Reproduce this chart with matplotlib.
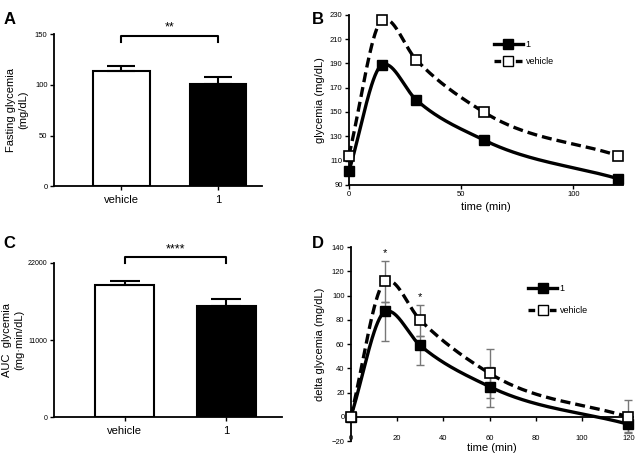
import numpy as np
import matplotlib
matplotlib.use('Agg')
import matplotlib.pyplot as plt

plt.rcParams['font.family'] = ['Liberation Sans', 'DejaVu Sans']

# panel A - fasting glycemia
groups = ['vehicle', '1']
fasting = [114, 101]
fasting_err = [5, 7]

# panel C - AUC
auc = [18850, 15850]
auc_err = [500, 950]

# panel B - glycemia time course
time = [0, 15, 30, 60, 120]
gly_1 = [101, 189, 160, 127, 95]
gly_veh = [114, 226, 193, 150, 114]

# panel D - delta glycemia
delta_1 = [0, 87, 59, 25, -6]
delta_1_lo = [0, 24, 16, 17, 6]
delta_1_hi = [0, 8, 8, 16, 5]
delta_veh = [0, 112, 80, 36, 0]
delta_veh_lo = [0, 17, 13, 20, 13]
delta_veh_hi = [0, 17, 12, 20, 14]
stars_x = [15, 30]
stars_y = [135, 99]


def smooth(x, y, n=60):
    # hermite spline through the points, only for the drawn line
    x = np.asarray(x, float)
    y = np.asarray(y, float)
    h = np.diff(x)
    d = np.diff(y) / h
    m = np.zeros_like(y)
    m[1:-1] = (d[:-1] * h[1:] + d[1:] * h[:-1]) / (h[:-1] + h[1:])
    peak = (d[:-1] * d[1:]) < 0
    m[1:-1][peak] *= 0.35
    m[0] = d[0]
    m[-1] = d[-1]
    xs, ys = [], []
    for i in range(len(x) - 1):
        t = np.linspace(0, 1, n)
        h00 = 2 * t**3 - 3 * t**2 + 1
        h10 = t**3 - 2 * t**2 + t
        h01 = -2 * t**3 + 3 * t**2
        h11 = t**3 - t**2
        xs.append(x[i] + t * h[i])
        ys.append(h00 * y[i] + h10 * h[i] * m[i] + h01 * y[i + 1] + h11 * h[i] * m[i + 1])
    return np.concatenate(xs), np.concatenate(ys)


def style(ax):
    for s in ['top', 'right']:
        ax.spines[s].set_visible(False)
    for s in ['left', 'bottom']:
        ax.spines[s].set_linewidth(1.3)
    ax.tick_params(labelsize=5.5, width=1, length=3, color='black', pad=1.5)


fig = plt.figure(figsize=(6.4, 4.62), dpi=100)

# ---- A
axA = fig.add_axes([0.084, 0.597, 0.325, 0.329])
pos = np.array([0, 1])
axA.bar(pos, fasting, width=0.58, color=['white', 'black'], edgecolor='black', linewidth=1.5)
axA.errorbar(pos, fasting, yerr=[[0, 0], fasting_err], fmt='none', ecolor='black',
             elinewidth=1.5, capsize=10, capthick=1.5)
axA.set_xlim(-0.7, 1.45)
axA.set_ylim(0, 150)
axA.set_yticks([0, 50, 100, 150])
axA.set_xticks(pos)
axA.set_xticklabels(groups)
style(axA)
axA.tick_params(axis='x', labelsize=8, pad=3)
axA.set_ylabel('Fasting glycemia\n(mg/dL)', fontsize=8)
axA.yaxis.set_label_coords(-0.125, 0.5)
axA.plot([0, 0, 1, 1], [142, 148, 148, 142], color='black', lw=1.5, clip_on=False)
axA.text(0.5, 151, '**', ha='center', va='bottom', fontsize=9)

# ---- C
axC = fig.add_axes([0.084, 0.097, 0.357, 0.334])
axC.bar(pos, auc, width=0.58, color=['white', 'black'], edgecolor='black', linewidth=1.5)
axC.errorbar(pos, auc, yerr=[[0, 0], auc_err], fmt='none', ecolor='black',
             elinewidth=1.5, capsize=11, capthick=1.5)
axC.set_xlim(-0.7, 1.55)
axC.set_ylim(0, 22000)
axC.set_yticks([0, 11000, 22000])
axC.set_xticks(pos)
axC.set_xticklabels(groups)
style(axC)
axC.tick_params(axis='y', labelsize=5)
axC.tick_params(axis='x', labelsize=8, pad=3)
axC.set_ylabel('AUC  glycemia\n(mg\u00b7min/dL)', fontsize=8)
axC.yaxis.set_label_coords(-0.13, 0.5)
axC.plot([0, 0, 1, 1], [22000, 22850, 22850, 22000], color='black', lw=1.5, clip_on=False)
axC.text(0.5, 23100, '****', ha='center', va='bottom', fontsize=9)

# ---- B
axB = fig.add_axes([0.545, 0.600, 0.428, 0.368])
sx, sy = smooth(time, gly_1)
axB.plot(sx, sy, color='black', lw=2.4, clip_on=False)
sx, sy = smooth(time, gly_veh)
axB.plot(sx, sy, color='black', lw=2.4, ls=(0, (3, 1.5)), clip_on=False)
axB.plot(time, gly_1, 's', color='black', ms=7, clip_on=False, zorder=5)
axB.plot(time, gly_veh, 's', mfc='white', mec='black', mew=1.2, ms=7, clip_on=False, zorder=5)
hB1, = axB.plot([], [], color='black', lw=2.4, marker='s', ms=7)
hB2, = axB.plot([], [], color='black', lw=2.4, ls=(0, (2, 1.2)), marker='s', ms=7,
                mfc='white', mec='black')
axB.legend([hB1, hB2], ['1', 'vehicle'], loc='upper left', bbox_to_anchor=(0.50, 0.90),
           frameon=False, fontsize=6.5, handlelength=3.2, handletextpad=0.3, labelspacing=0.9)
axB.set_xlim(0, 122)
axB.set_ylim(90, 230)
axB.set_xticks([0, 50, 100])
axB.set_yticks(np.arange(90, 231, 20))
style(axB)
axB.set_xlabel('time (min)', fontsize=8, labelpad=3)
axB.set_ylabel('glycemia (mg/dL)', fontsize=8)
axB.yaxis.set_label_coords(-0.088, 0.5)

# ---- D
axD = fig.add_axes([0.548, 0.045, 0.441, 0.420])
sx, sy = smooth(time, delta_1)
axD.plot(sx, sy, color='black', lw=2.4, clip_on=False)
sx, sy = smooth(time, delta_veh)
axD.plot(sx, sy, color='black', lw=2.4, ls=(0, (3, 1.5)), clip_on=False)
axD.errorbar(time, delta_1, yerr=[delta_1_lo, delta_1_hi], fmt='none', ecolor='#777777',
             elinewidth=1, capsize=3, clip_on=False)
axD.errorbar(time, delta_veh, yerr=[delta_veh_lo, delta_veh_hi], fmt='none', ecolor='#777777',
             elinewidth=1, capsize=3, clip_on=False)
axD.plot(time, delta_1, 's', color='black', ms=7.5, clip_on=False, zorder=5)
axD.plot(time, delta_veh, 's', mfc='white', mec='black', mew=1.2, ms=7.5, clip_on=False, zorder=5)
for tx, ty in zip(stars_x, stars_y):
    axD.text(tx, ty, '*', ha='center', va='center', fontsize=8)
hD1, = axD.plot([], [], color='black', lw=2.4, marker='s', ms=7.5)
hD2, = axD.plot([], [], color='black', lw=2.4, ls=(0, (2, 1.2)), marker='s', ms=7.5,
                mfc='white', mec='black')
axD.legend([hD1, hD2], ['1', 'vehicle'], loc='upper left', bbox_to_anchor=(0.60, 0.85),
           frameon=False, fontsize=6.5, handlelength=3.2, handletextpad=0.3, labelspacing=1.4)
axD.set_xlim(0, 122)
axD.set_ylim(-20, 140)
axD.set_xticks(np.arange(0, 121, 20))
axD.set_yticks(np.arange(-20, 141, 20))
style(axD)
axD.spines['bottom'].set_position(('data', 0))
axD.tick_params(axis='x', pad=10, length=3)
axD.set_xlabel('time (min)', fontsize=8, labelpad=1)
axD.set_ylabel('delta glycemia (mg/dL)', fontsize=8)
axD.yaxis.set_label_coords(-0.092, 0.5)

# panel letters
for lab, x, y in [('A', 0.005, 0.975), ('B', 0.488, 0.975), ('C', 0.005, 0.49), ('D', 0.488, 0.49)]:
    fig.text(x, y, lab, fontsize=12, fontweight='bold', va='top')

fig.savefig('out.png', dpi=100)
